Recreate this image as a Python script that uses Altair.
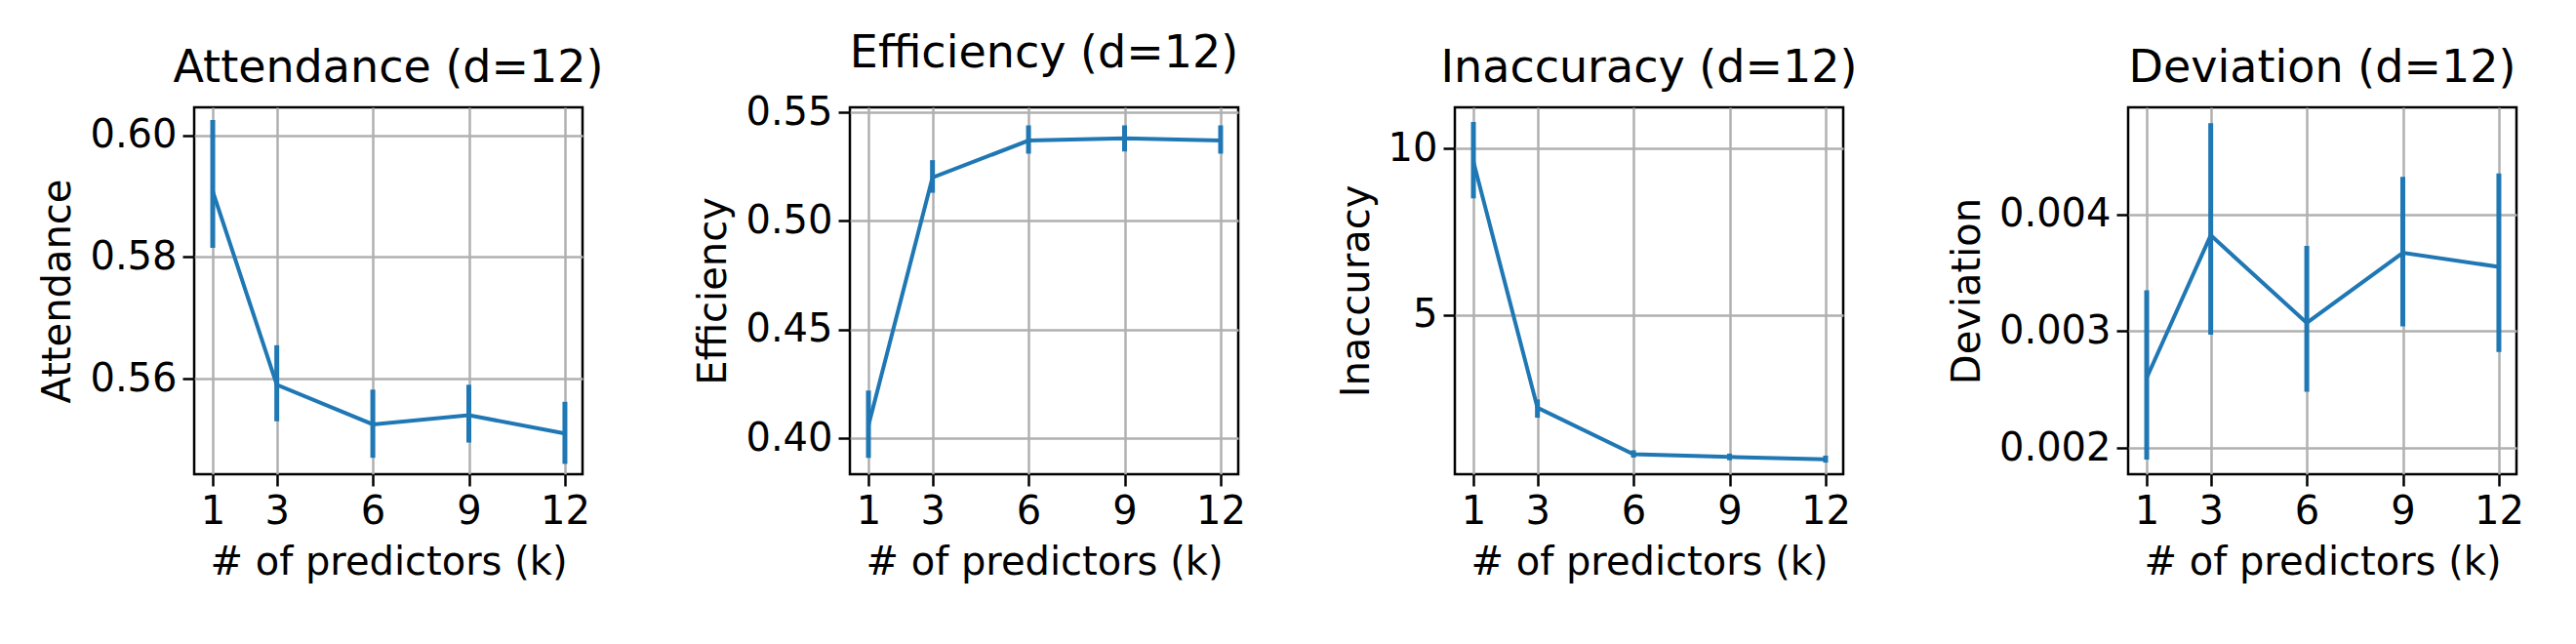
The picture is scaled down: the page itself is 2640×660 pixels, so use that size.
import pandas as pd
import altair as alt

k_values = [1, 3, 6, 9, 12]

attendance = [0.5908, 0.5590, 0.5525, 0.5540, 0.5510]
attendance_lo = [0.5815, 0.5530, 0.5470, 0.5495, 0.5460]
attendance_hi = [0.6025, 0.5655, 0.5582, 0.5590, 0.5562]

efficiency = [0.406, 0.520, 0.537, 0.538, 0.537]
efficiency_lo = [0.391, 0.513, 0.531, 0.532, 0.531]
efficiency_hi = [0.422, 0.528, 0.544, 0.544, 0.544]

inaccuracy = [9.6, 2.2, 0.8, 0.72, 0.65]
inaccuracy_lo = [8.5, 1.9, 0.7, 0.62, 0.55]
inaccuracy_hi = [10.8, 2.45, 0.92, 0.82, 0.76]

deviation = [0.00260, 0.00382, 0.00307, 0.00367, 0.00355]
deviation_lo = [0.00190, 0.00297, 0.00248, 0.00304, 0.00282]
deviation_hi = [0.00335, 0.00478, 0.00373, 0.00432, 0.00435]

BLUE = "#1f77b4"


def panel(name, mean, lo, hi, domain, ticks, fmt):
    df = pd.DataFrame({"k": k_values, "v": mean, "lo": lo, "hi": hi})
    base = alt.Chart(df)
    x = alt.X("k:Q", scale=alt.Scale(domain=[0.42, 12.55], nice=False, zero=False),
              axis=alt.Axis(values=k_values, title="# of predictors (k)", format="d"))
    y = alt.Y("v:Q", scale=alt.Scale(domain=domain, nice=False, zero=False),
              axis=alt.Axis(values=ticks, format=fmt, title=name))
    line = base.mark_line(color=BLUE, strokeWidth=4).encode(x=x, y=y)
    err = base.mark_rule(color=BLUE, strokeWidth=5).encode(x="k:Q", y="lo:Q", y2="hi:Q")
    return alt.layer(line, err).properties(
        width=398, height=376, title=f"{name} (d=12)")


chart = alt.hconcat(
    panel("Attendance", attendance, attendance_lo, attendance_hi,
          [0.5443, 0.6046], [0.56, 0.58, 0.60], ".2f"),
    panel("Efficiency", efficiency, efficiency_lo, efficiency_hi,
          [0.3835, 0.5523], [0.40, 0.45, 0.50, 0.55], ".2f"),
    panel("Inaccuracy", inaccuracy, inaccuracy_lo, inaccuracy_hi,
          [0.2, 11.24], [5, 10], "d"),
    panel("Deviation", deviation, deviation_lo, deviation_hi,
          [0.001775, 0.004915], [0.002, 0.003, 0.004], ".3f"),
    spacing=90,
).properties(
    padding={"left": 30, "top": 22, "right": 10, "bottom": 10}
).configure_view(
    stroke="black", strokeWidth=2.5
).configure_axis(
    labelFont="DejaVu Sans", titleFont="DejaVu Sans",
    labelFontSize=40, titleFontSize=40, titleFontWeight="normal",
    labelColor="black", titleColor="black",
    gridColor="#b0b0b0", gridWidth=2.5, domain=False,
    tickColor="black", tickSize=12, tickWidth=2.5, labelPadding=6, titlePadding=12
).configure_title(
    font="DejaVu Sans", fontSize=46, fontWeight="normal", color="black", offset=16
)

chart.save("out.html", embed_options={"renderer": "svg", "actions": False})
